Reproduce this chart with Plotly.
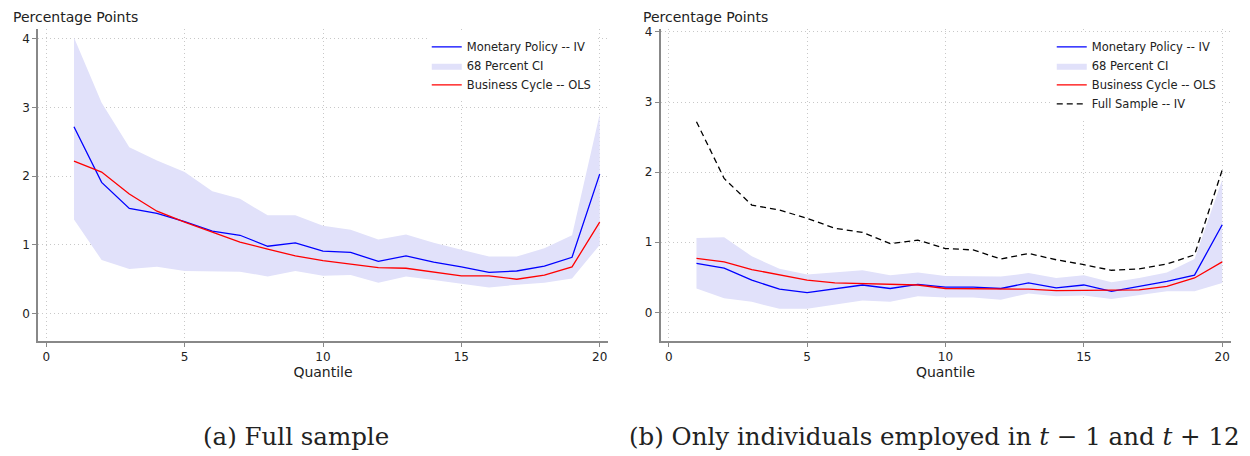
import plotly.graph_objects as go

q = list(range(1, 21))
a_iv = [2.72,1.91,1.53,1.46,1.34,1.20,1.14,0.98,1.03,0.91,0.89,0.76,0.84,0.75,0.68,0.60,0.62,0.69,0.82,2.03]
a_ols = [2.22,2.06,1.74,1.49,1.33,1.18,1.04,0.94,0.84,0.77,0.72,0.67,0.66,0.60,0.55,0.55,0.50,0.56,0.68,1.33]
a_hi = [4.02,3.07,2.42,2.23,2.06,1.78,1.67,1.43,1.43,1.28,1.22,1.08,1.15,1.03,0.93,0.83,0.83,0.95,1.14,2.90]
a_lo = [1.37,0.78,0.65,0.68,0.62,0.62,0.61,0.54,0.62,0.55,0.56,0.45,0.54,0.49,0.44,0.38,0.42,0.45,0.51,1.00]
b_iv = [0.70,0.63,0.46,0.33,0.28,0.34,0.39,0.34,0.40,0.36,0.36,0.34,0.42,0.35,0.39,0.30,0.37,0.44,0.53,1.25]
b_ols = [0.77,0.72,0.61,0.53,0.46,0.42,0.41,0.40,0.39,0.34,0.34,0.33,0.33,0.31,0.31,0.32,0.32,0.37,0.49,0.72]
b_hi = [1.06,1.07,0.80,0.62,0.54,0.57,0.60,0.53,0.57,0.52,0.52,0.51,0.56,0.49,0.53,0.43,0.49,0.57,0.76,1.89]
b_lo = [0.34,0.20,0.15,0.05,0.05,0.11,0.17,0.15,0.23,0.21,0.21,0.18,0.27,0.23,0.24,0.19,0.25,0.30,0.30,0.42]

BLUE, RED, CI = "#0000ff", "#ff0000", "rgba(225,225,250,1)"
fig = go.Figure()

def fills(xa, ya, leg, lo, hi):
    fig.add_trace(go.Scatter(x=q, y=lo, mode="lines", line=dict(width=0), showlegend=False,
                             xaxis=xa, yaxis=ya, hoverinfo="skip"))
    fig.add_trace(go.Scatter(x=q, y=hi, mode="lines", line=dict(width=0), fill="tonexty", fillcolor=CI,
                             name="68 Percent CI", xaxis=xa, yaxis=ya, legend=leg, legendrank=2))

def lines(xa, ya, leg, iv, ols, full=None):
    fig.add_trace(go.Scatter(x=q, y=iv, mode="lines", line=dict(color=BLUE, width=1.3),
                             name="Monetary Policy -- IV", xaxis=xa, yaxis=ya, legend=leg, legendrank=1))
    fig.add_trace(go.Scatter(x=q, y=ols, mode="lines", line=dict(color=RED, width=1.3),
                             name="Business Cycle -- OLS", xaxis=xa, yaxis=ya, legend=leg, legendrank=3))
    if full is not None:
        fig.add_trace(go.Scatter(x=q, y=full, mode="lines", line=dict(color="black", width=1.3, dash="6px,4px"),
                                 name="Full Sample -- IV", xaxis=xa, yaxis=ya, legend=leg, legendrank=4))

fills("x", "y", "legend", a_lo, a_hi)
fills("x2", "y2", "legend2", b_lo, b_hi)
lines("x", "y", "legend", a_iv, a_ols)
lines("x2", "y2", "legend2", b_iv, b_ols, a_iv)

axcommon = dict(showline=True, linecolor="#888", linewidth=1.5, ticks="outside", ticklen=4,
                tickcolor="#888", tickfont=dict(size=12, color="#222"), gridcolor="#c8c8c8",
                griddash="1px,3px", gridwidth=1, zeroline=False)
legcommon = dict(xanchor="left", yanchor="top", bgcolor="white", font=dict(size=11.5),
                 tracegroupgap=0, itemwidth=30, traceorder="normal")
fig.update_layout(
    width=1250, height=456, margin=dict(l=0, r=0, t=0, b=0),
    plot_bgcolor="white", paper_bgcolor="white",
    font=dict(family="DejaVu Sans", color="#222"),
    xaxis=dict(domain=[0.024, 0.48], range=[-0.3, 20.3], tickvals=[0,5,10,15,20], anchor="y",
               title=dict(text="Quantile", font=dict(size=14), standoff=2), **axcommon),
    yaxis=dict(domain=[0.272, 0.962], range=[-0.4, 4.14], tickvals=[0,1,2,3,4], anchor="x", **axcommon),
    xaxis2=dict(domain=[0.522, 0.978], range=[-0.3, 20.3], tickvals=[0,5,10,15,20], anchor="y2",
                title=dict(text="Quantile", font=dict(size=14), standoff=2), **axcommon),
    yaxis2=dict(domain=[0.272, 0.962], range=[-0.41, 4.04], tickvals=[0,1,2,3,4], anchor="x2", **axcommon),
    legend=dict(x=0.335, y=0.955, **legcommon),
    legend2=dict(x=0.835, y=0.955, **legcommon),
    annotations=[
        dict(text="Percentage Points", x=0.002, y=1.012, xref="paper", yref="paper", xanchor="left",
             yanchor="top", showarrow=False, font=dict(size=14)),
        dict(text="Percentage Points", x=0.506, y=1.012, xref="paper", yref="paper", xanchor="left",
             yanchor="top", showarrow=False, font=dict(size=14)),
        dict(text="(a) Full sample", x=0.23, y=0.06, xref="paper", yref="paper", xanchor="center",
             yanchor="middle", showarrow=False, font=dict(size=24.5, family="DejaVu Serif")),
        dict(text="(b) Only individuals employed in <i>t</i> − 1 and <i>t</i> + 12", x=0.741, y=0.06,
             xref="paper", yref="paper", xanchor="center", yanchor="middle", showarrow=False,
             font=dict(size=24.5, family="DejaVu Serif")),
    ],
)
fig.write_html("out.html")
